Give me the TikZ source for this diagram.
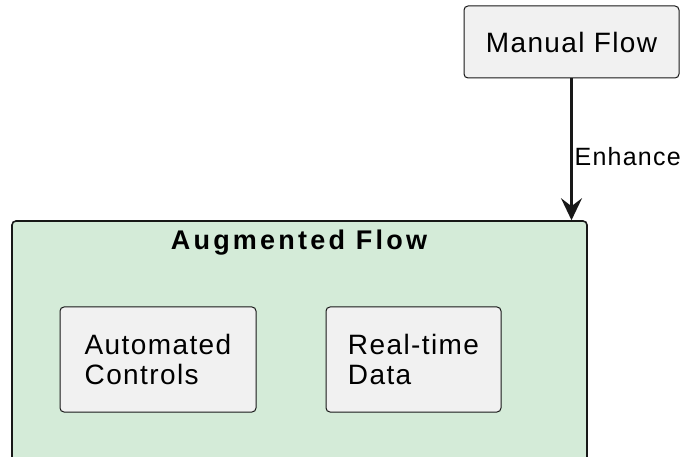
\documentclass[tikz,border=0pt]{standalone}
\usepackage{fontspec}
\setmainfont{Liberation Sans}
\newfontfamily\boxfont[LetterSpace=5]{Liberation Sans}
\newfontfamily\titlefont[LetterSpace=12]{Liberation Sans}
\usetikzlibrary{arrows.meta}
\definecolor{nodefill}{HTML}{F1F1F1}
\definecolor{nodeline}{HTML}{181818}
\definecolor{groupfill}{HTML}{D4EBD8}
\tikzset{
  flowbox/.style={draw=nodeline, line width=1pt, fill=nodefill, rounded corners=4pt,
    inner sep=0pt, align=left, font=\boxfont\fontsize{28}{30}\selectfont},
  groupbox/.style={draw=nodeline, line width=1.6pt, fill=groupfill, rounded corners=4pt,
    inner sep=0pt},
  flowarrow/.style={draw=nodeline, line width=2.2pt,
    -{Stealth[length=22pt, width=21pt, inset=8pt]}},
}
\begin{document}
\begin{tikzpicture}[x=1pt, y=-1pt]
  \useasboundingbox (0,0) rectangle (686,457);
  \clip (0,0) rectangle (686,457);
  % augmented group (continues below the page edge)
  \node[groupbox, minimum width=575pt, minimum height=249pt] (group) at (299.5,345.5) {};
  \node[font=\titlefont\bfseries\fontsize{27}{32}\selectfont] (title) at (299,243) {Augmented Flow};
  % inner steps
  \node[flowbox, minimum width=196pt, minimum height=105pt] (auto) at (158,359.5) {Automated\\Controls};
  \node[flowbox, minimum width=175pt, minimum height=105pt] (real) at (413.5,359.5) {Real-time\\Data};
  % manual source
  \node[flowbox, minimum width=215pt, minimum height=72pt] (manual) at (571.5,42) {Manual Flow};
  % connector
  \draw[flowarrow] (manual.south) -- (manual.south |- group.north)
    node[pos=0.55, right=1pt, font=\boxfont\fontsize{25}{29}\selectfont, inner sep=1pt] (enh) {Enhance};
\end{tikzpicture}
\end{document}
